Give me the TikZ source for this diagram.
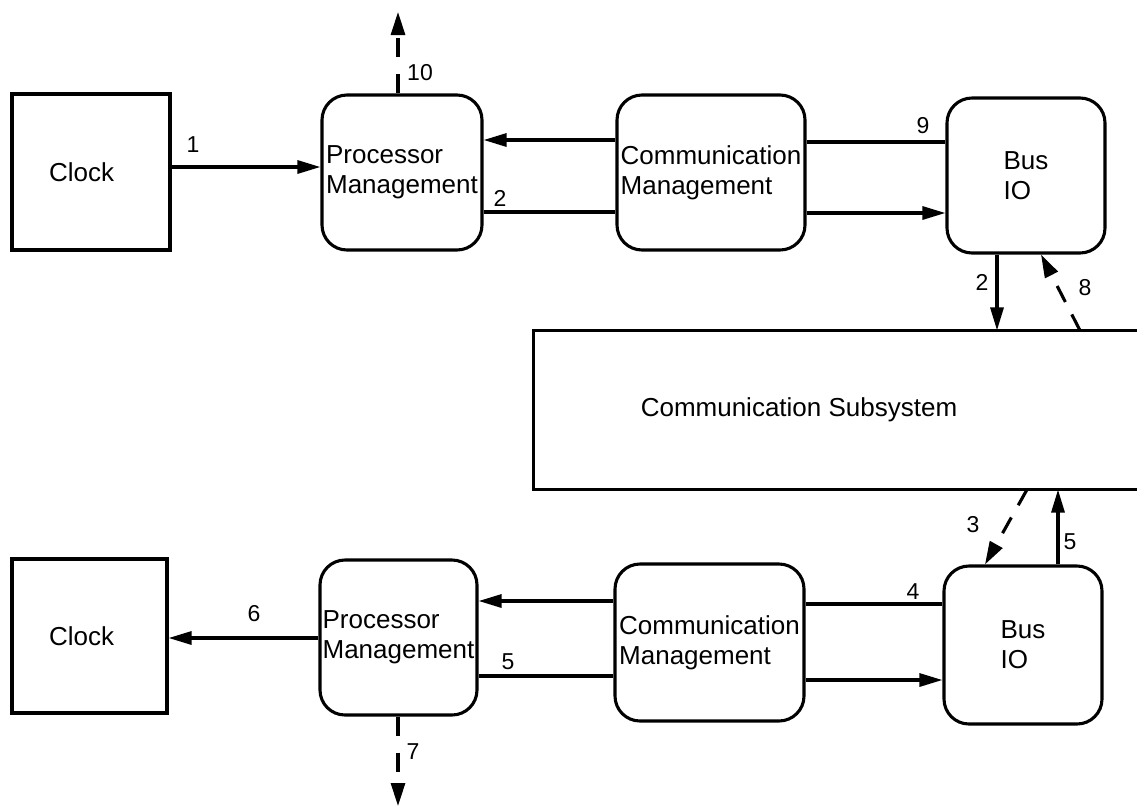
\documentclass[tikz,border=0pt]{standalone}
\usepackage{fontspec}
\setmainfont{Liberation Sans}
\usetikzlibrary{arrows.meta}
\begin{document}
\begin{tikzpicture}[x=1pt,y=-1pt,
  line width=3.1pt,
  txt/.style={font=\fontsize{26}{30}\selectfont},
  lbl/.style={font=\fontsize{23}{27}\selectfont, inner sep=0pt},
  sqbox/.style={draw, txt, inner sep=0pt, align=left},
  rbox/.style={draw, txt, inner sep=0pt, align=left, rounded corners=25pt},
  arr/.style={-{Triangle[length=23pt,width=13pt]}},
  darr/.style={-{Triangle[length=23pt,width=14pt]}, dash pattern=on 19pt off 17pt},
  dlink/.style={-{Triangle[length=23pt,width=14pt]}, dash pattern=on 18pt off 14pt}]

\useasboundingbox (0,0) rectangle (1137,807);
\fill[white] (0,0) rectangle (1137,807);

% upper chain
\node[sqbox, minimum width=158pt, minimum height=156pt, text width=84pt, inner xsep=37pt]
  (clockT) at (91,172) {Clock};
\node[rbox, minimum width=160pt, minimum height=155pt] (pmT) at (402,172.5) {Processor\\Management};
\node[rbox, minimum width=188pt, minimum height=155pt] (cmT) at (711,172.5) {Communication\\Management};
\node[rbox, minimum width=158pt, minimum height=155pt] (busT) at (1026,175.5) {Bus\\IO};

% shared subsystem (open to the right)
\node[minimum width=602pt, minimum height=156pt, inner sep=0pt] (sub) at (836,410) {};
\draw (sub.north east) -- (sub.north west) -- (sub.south west) -- (sub.south east);
\node[txt, inner sep=0pt] (subtxt) at (799,410) {Communication Subsystem};

% lower chain
\node[sqbox, minimum width=155pt, minimum height=154pt, text width=81pt, inner xsep=37pt]
  (clockB) at (89.5,636) {Clock};
\node[rbox, minimum width=157pt, minimum height=155pt] (pmB) at (398.5,637.5) {Processor\\Management};
\node[rbox, minimum width=189pt, minimum height=157pt] (cmB) at (709.5,642.5) {Communication\\Management};
\node[rbox, minimum width=158pt, minimum height=158pt] (busB) at (1023,645) {Bus\\IO};

% free ends
\coordinate (out10) at (398,12);
\coordinate (out7) at (398,806);

% upper connectors
\draw[arr] (clockT.east |- 0,167) -- (pmT.west |- 0,167);
\draw[arr] (cmT.west |- 0,140) -- (pmT.east |- 0,140);
\draw (pmT.east |- 0,212) -- (cmT.west |- 0,212);
\draw (cmT.east |- 0,142) -- (busT.west |- 0,142);
\draw[arr] (cmT.east |- 0,213) -- (busT.west |- 0,213);
\draw[darr] (pmT.north -| out10) -- (out10);
\draw[arr] (busT.south -| 997,0) -- (sub.north -| 997,0);
\draw[dlink] (sub.north -| 1080,0) -- (busT.south -| 1041,0);

% lower connectors
\draw[arr] (pmB.west |- 0,638) -- (clockB.east |- 0,638);
\draw[arr] (cmB.west |- 0,601) -- (pmB.east |- 0,601);
\draw (pmB.east |- 0,676) -- (cmB.west |- 0,676);
\draw (cmB.east |- 0,604) -- (busB.west |- 0,604);
\draw[arr] (cmB.east |- 0,680) -- (busB.west |- 0,680);
\draw[darr] (pmB.south -| out7) -- (out7);
\draw[arr] (busB.north -| 1058,0) -- (sub.south -| 1058,0);
\draw[dlink] (sub.south -| 1027,0) -- (busB.north -| 985,0);

% flow numbers
\node[lbl] (n1) at (193,145) {1};
\node[lbl] (n2a) at (500,198) {2};
\node[lbl] (n10) at (420,73) {10};
\node[lbl] (n9) at (923,126) {9};
\node[lbl] (n2b) at (982,282) {2};
\node[lbl] (n8) at (1085,288) {8};
\node[lbl] (n3) at (973,525) {3};
\node[lbl] (n5a) at (1070,542) {5};
\node[lbl] (n4) at (913,592) {4};
\node[lbl] (n6) at (254,614) {6};
\node[lbl] (n5b) at (508,662) {5};
\node[lbl] (n7) at (413,752) {7};
\end{tikzpicture}
\end{document}
